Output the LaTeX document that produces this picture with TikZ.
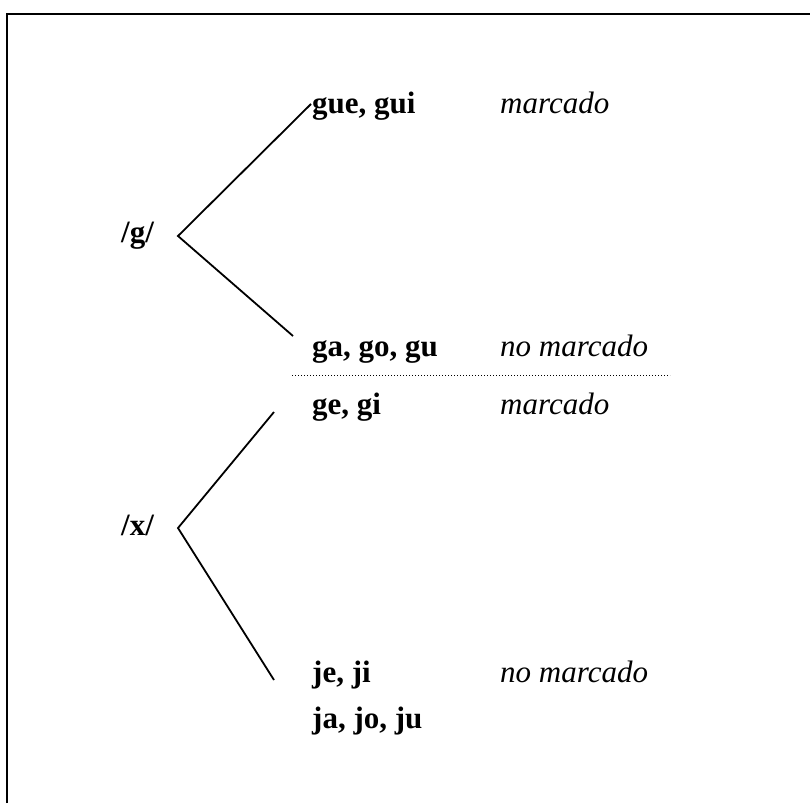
\documentclass[tikz,border=0pt]{standalone}
\usepackage{fontspec}
\setmainfont{Liberation Serif}

\begin{document}
\begin{tikzpicture}[x=1pt,y=-1pt,
        grafia/.style={font=\fontsize{31}{31}\selectfont\bfseries,anchor=base west,inner sep=0pt},
        valor/.style={font=\fontsize{31}{31}\selectfont\itshape,anchor=base west,inner sep=0pt},
        rama/.style={line width=1.8pt}]
        \useasboundingbox (0,0) rectangle (810,803);
        \draw[line width=2pt] (7,803) -- (7,14) -- (810,14);

        % /g/
        \node[grafia] (g) at (121,242) {/g/};
        \coordinate (gv) at (178,236);
        \node[grafia] (gue) at (312,113) {gue, gui};
        \node[valor] (gueM) at (500,113) {marcado};
        \node[grafia] (ga) at (312,356) {ga, go, gu};
        \node[valor] (gaM) at (500,356) {no marcado};
        \coordinate (gue1) at (311,104);
        \coordinate (ga1) at (293,336);
        \draw[rama] (gue1) -- (gv) -- (ga1);

        \draw[line width=1pt,dash pattern=on 1pt off 2pt] (292,375) -- (670,375);

        % /x/
        \node[grafia] (x) at (121,535) {/x/};
        \coordinate (xv) at (178,528);
        \node[grafia] (ge) at (312,414) {ge, gi};
        \node[valor] (geM) at (500,414) {marcado};
        \node[grafia] (je) at (312,682) {je, ji};
        \node[valor] (jeM) at (500,682) {no marcado};
        \node[grafia] (ja) at (312,728) {ja, jo, ju};
        \coordinate (ge1) at (274,412);
        \coordinate (je1) at (274,680);
        \draw[rama] (ge1) -- (xv) -- (je1);
    \end{tikzpicture}
\end{document}
